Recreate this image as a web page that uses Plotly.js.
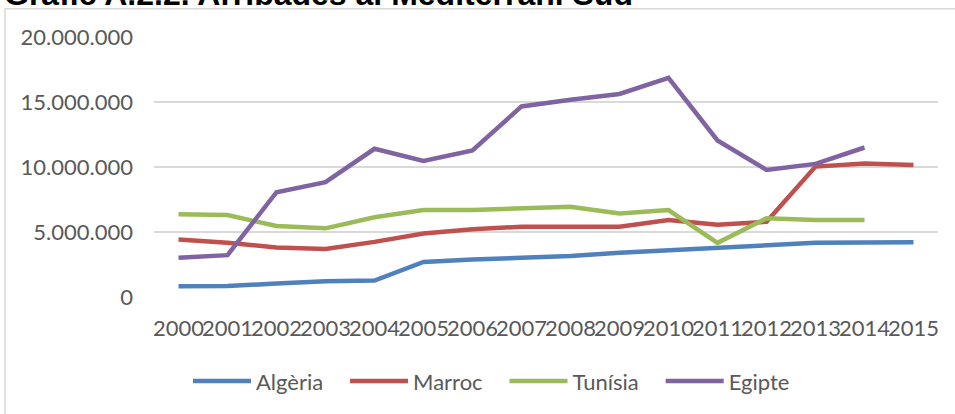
<!DOCTYPE html>
<html>
<head>
<meta charset="utf-8">
<script src="https://cdn.plot.ly/plotly-3.0.1.min.js"></script>
<style>html,body{margin:0;padding:0;background:#fff;}#chart{width:955px;height:414px;}</style>
</head>
<body>
<div id="chart"></div>
<script>
const years = ["2000","2001","2002","2003","2004","2005","2006","2007","2008","2009","2010","2011","2012","2013","2014","2015"];
const algeria = [825000, 850000, 1030000, 1210000, 1260000, 2700000, 2880000, 3010000, 3160000, 3400000, 3600000, 3810000, 3990000, 4170000, 4200000, 4220000];
const marroc  = [4430000, 4170000, 3810000, 3700000, 4240000, 4890000, 5220000, 5400000, 5400000, 5400000, 5920000, 5560000, 5790000, 10030000, 10260000, 10160000];
const tunisia = [6360000, 6300000, 5460000, 5280000, 6130000, 6690000, 6690000, 6790000, 6940000, 6430000, 6690000, 4170000, 6050000, 5920000, 5920000, null];
const egipte  = [3010000, 3220000, 8060000, 8830000, 11400000, 10470000, 11270000, 14660000, 15180000, 15620000, 16850000, 12040000, 9780000, 10240000, 11500000, null];
const seriesNames = ["Algèria", "Marroc", "Tunísia", "Egipte"];
const seriesColors = ["#4F81BD", "#C0504D", "#9BBB59", "#8064A2"];
const yTicks = [0, 5000000, 10000000, 15000000, 20000000];
const yTickText = ["0", "5.000.000", "10.000.000", "15.000.000", "20.000.000"];
const titleText = "Gràfic A.2.2. Arribades al Mediterrani Sud";

const W = 955, H = 414;
const plotL = 154, plotR = 938, plotT = 36.7, plotB = 296.7;
const px = x => (x - plotL) / (plotR - plotL);
const py = y => (plotB - y) / (plotB - plotT);

const pad = "\u00a0\u00a0\u00a0";
const allSeries = [algeria, marroc, tunisia, egipte];
const traces = allSeries.map((vals, i) => ({
  type: "scatter", mode: "lines", x: years, y: vals, name: seriesNames[i] + pad,
  line: {color: seriesColors[i], width: 4.5}, connectgaps: false, hoverinfo: "skip"
}));

const font = {family: "Lato, 'Open Sans', sans-serif", size: 22, color: "#595959"};
const layout = {
  width: W, height: H,
  margin: {l: plotL, r: W - plotR, t: plotT, b: H - plotB, pad: 0, autoexpand: false},
  paper_bgcolor: "#fff", plot_bgcolor: "#fff",
  font: font,
  showlegend: true,
  xaxis: {type: "category", range: [-0.5, years.length - 0.5], showgrid: false, zeroline: false,
          showline: false, ticks: "", tickfont: font, ticklabelstandoff: 16, tickangle: 0},
  yaxis: {range: [0, 20000000], tickvals: yTicks, ticktext: yTickText, showgrid: true,
          gridcolor: "#D9D9D9", gridwidth: 1.5, zeroline: false, showline: false, ticks: "",
          tickfont: font, ticklabelstandoff: 20},
  legend: {orientation: "h", x: px(188), xanchor: "left", y: py(381), yanchor: "middle",
           font: font, itemwidth: 58, bgcolor: "rgba(0,0,0,0)"},
  shapes: [{type: "rect", xref: "paper", yref: "paper", x0: px(5), x1: px(960), y0: py(430), y1: py(8.5),
            line: {color: "#D9D9D9", width: 1.5}, fillcolor: "rgba(0,0,0,0)", layer: "below"}],
  annotations: [{text: "<b>" + titleText + "</b>", xref: "paper", yref: "paper", x: px(2), xanchor: "left",
                 y: py(14), yanchor: "bottom", showarrow: false,
                 font: {family: "'Liberation Sans', Arial, sans-serif", size: 32, color: "#000"}}]
};
Plotly.newPlot("chart", traces, layout, {staticPlot: true, displayModeBar: false});
</script>
</body>
</html>
